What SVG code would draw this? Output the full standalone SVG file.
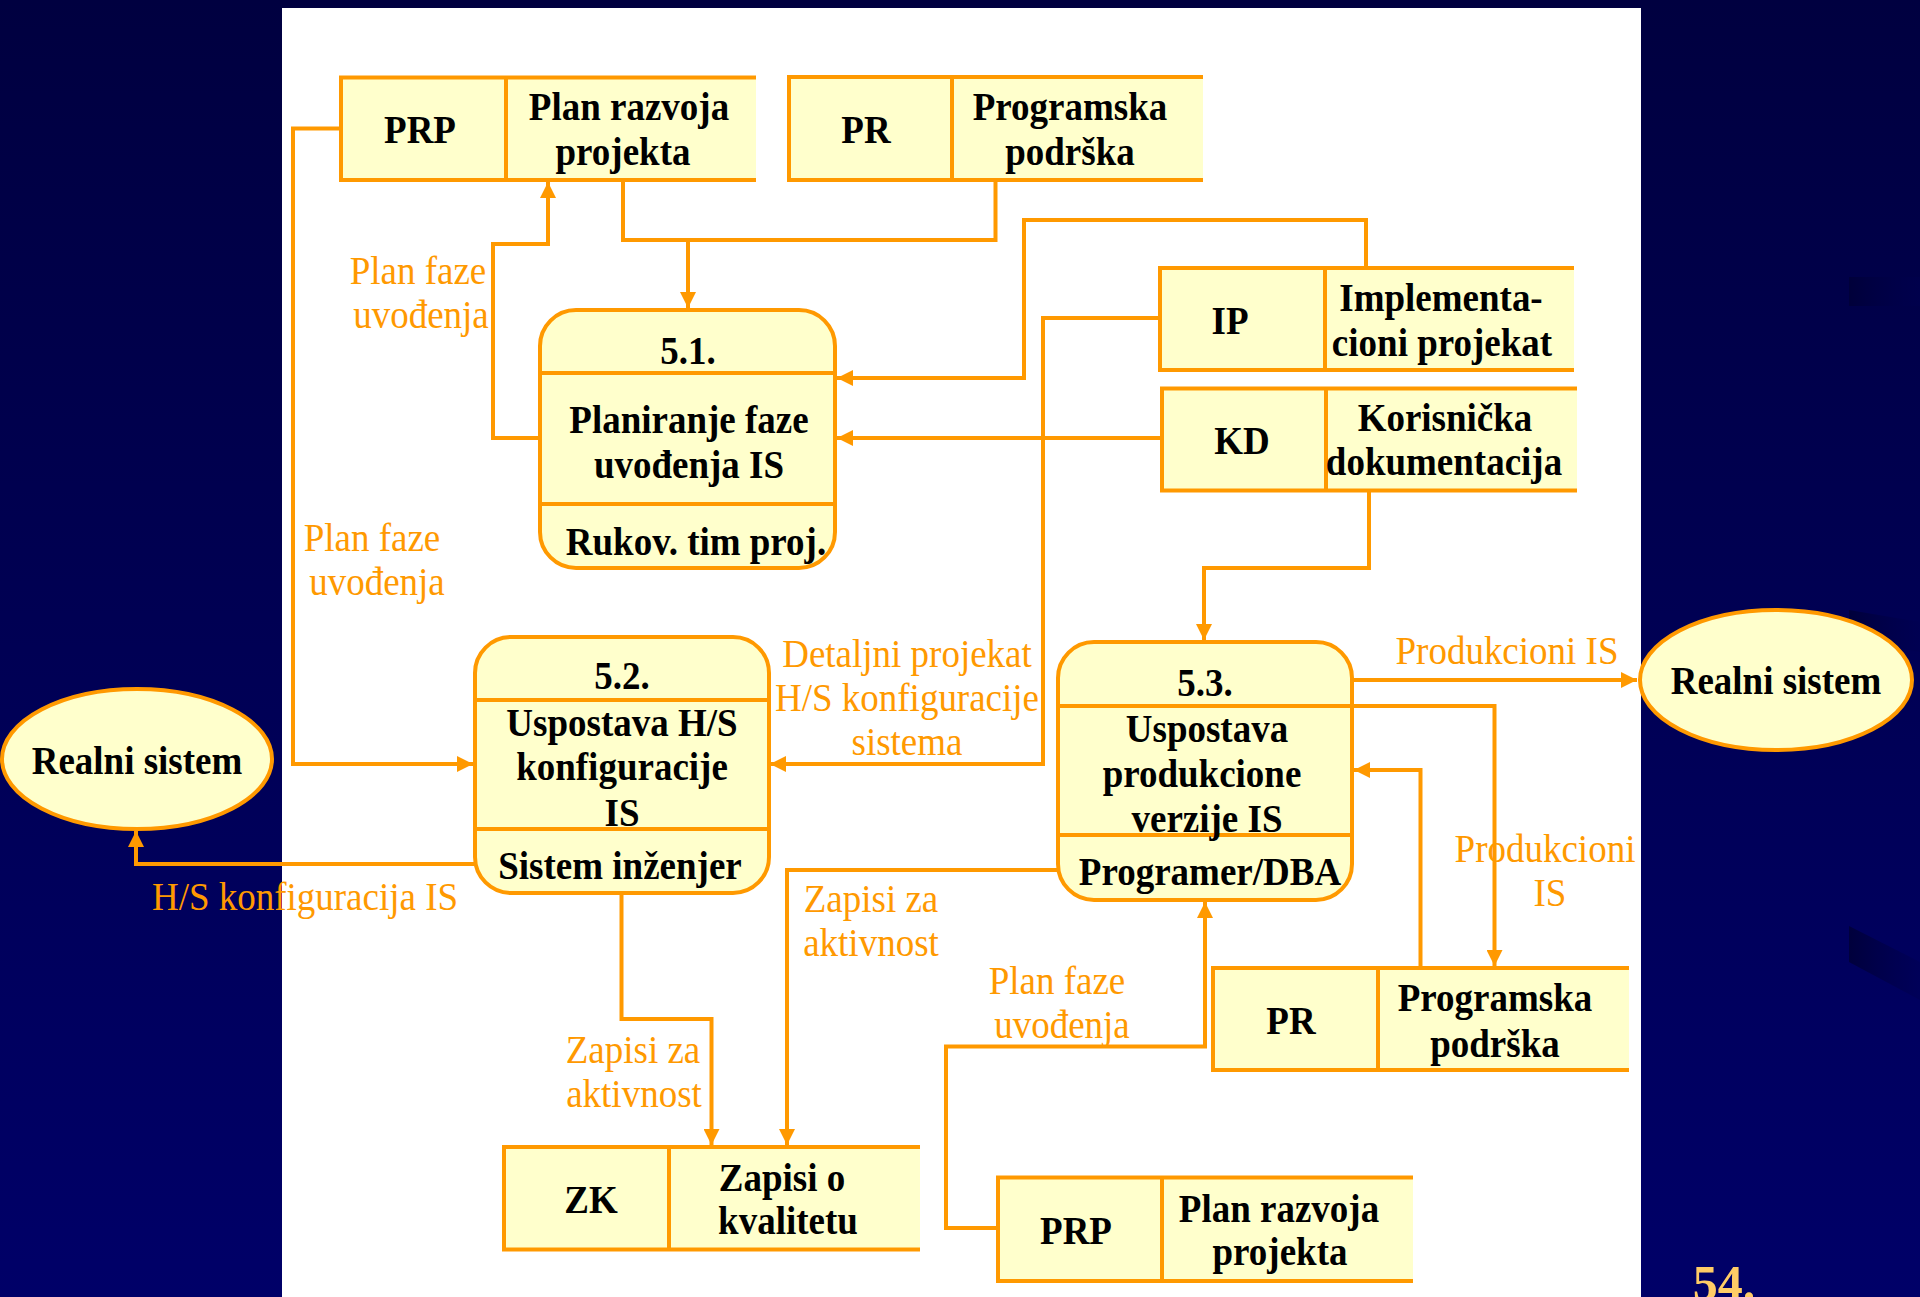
<svg xmlns="http://www.w3.org/2000/svg" width="1920" height="1297" viewBox="0 0 1920 1297">
<defs>
<linearGradient id="bg" x1="0" y1="0" x2="0" y2="1">
<stop offset="0" stop-color="#000040"/>
<stop offset="1" stop-color="#000068"/>
</linearGradient>
<linearGradient id="art" x1="0" y1="0" x2="1" y2="0">
<stop offset="0" stop-color="#000038" stop-opacity="0.9"/>
<stop offset="1" stop-color="#000050" stop-opacity="0.4"/>
</linearGradient>
<marker id="ah" markerUnits="userSpaceOnUse" markerWidth="16" markerHeight="16" refX="16" refY="8" orient="auto">
<path d="M0,0 L16,8 L0,16 z" fill="#FF9900"/>
</marker>
<style>
.sf{fill:#FFFFCC;stroke:none}
.ln{fill:none;stroke:#FF9900;stroke-width:4}
.pr{fill:#FFFFCC;stroke:#FF9900;stroke-width:4}
.cn{fill:none;stroke:#FF9900;stroke-width:4;marker-end:url(#ah)}
.cp{fill:none;stroke:#FF9900;stroke-width:4}
.t{font-family:"Liberation Serif","Times New Roman",serif;font-weight:bold;font-size:37px;fill:#000;text-anchor:middle}
.l{font-family:"Liberation Serif","Times New Roman",serif;font-size:37px;fill:#FF9900;text-anchor:middle}
.t,.l{transform-box:fill-box;transform-origin:50% 50%;transform:translate(0px,1.5px) scale(1,1.08)}
</style>
</defs>
<rect x="0" y="0" width="1920" height="1297" fill="url(#bg)"/>
<rect x="1849" y="277" width="71" height="29" fill="url(#art)"/>
<polygon points="1849,610 1920,622 1920,652 1849,640" fill="url(#art)"/>
<polygon points="1849,926 1920,962 1920,1000 1849,962" fill="url(#art)"/>
<rect x="282" y="8" width="1359" height="1289" fill="#FFFFFF"/>
<text x="1724" y="1300" style="font-family:'Liberation Serif',serif;font-weight:bold;font-size:50px;fill:#FFCC66;text-anchor:middle">54.</text>

<g id="connectors">
<path class="cn" d="M341,128.5 H293 V764 H473"/>
<path class="cn" d="M541,438 H493 V244 H548 V182"/>
<path class="cp" d="M623,180 V240 H995.5 V180"/>
<path class="cn" d="M688,240 V308"/>
<path class="cn" d="M1366,268 V220 H1024 V378 H837"/>
<path class="cn" d="M1162,438 H837"/>
<path class="cn" d="M1160,318 H1043 V764 H770"/>
<path class="cn" d="M1369,490 V568 H1204 V640"/>
<path class="cn" d="M479,864 H136 V831"/>
<path class="cn" d="M621.5,893 V1019 H711.5 V1145"/>
<path class="cn" d="M1058,870 H787 V1145"/>
<path class="cn" d="M998,1228 H946 V1046.5 H1205 V902"/>
<path class="cn" d="M1352,680 H1637"/>
<path class="cn" d="M1352,706 H1494.5 V966"/>
<path class="cn" d="M1420.5,968 V770 H1354"/>
</g>

<g id="labels">
<text class="l" x="418" y="282">Plan faze</text>
<text class="l" x="421" y="326">uvođenja</text>
<text class="l" x="372" y="549">Plan faze</text>
<text class="l" x="377" y="593">uvođenja</text>
<text class="l" x="907" y="665">Detaljni projekat</text>
<text class="l" x="907" y="709">H/S konfiguracije</text>
<text class="l" x="907" y="753">sistema</text>
<text class="l" x="305" y="908">H/S konfiguracija IS</text>
<text class="l" x="633" y="1061">Zapisi za</text>
<text class="l" x="634" y="1105">aktivnost</text>
<text class="l" x="871" y="910">Zapisi za</text>
<text class="l" x="871" y="954">aktivnost</text>
<text class="l" x="1507" y="662">Produkcioni IS</text>
<text class="l" x="1545" y="860">Produkcioni</text>
<text class="l" x="1550" y="904">IS</text>
<text class="l" x="1057" y="992">Plan faze</text>
<text class="l" x="1062" y="1036">uvođenja</text>
</g>

<g id="store-prp-top">
<rect class="sf" x="341" y="77.5" width="415" height="102.5"/>
<path class="ln" d="M756,77.5 H341 V180 H756 M506,77.5 V180"/>
<text class="t" x="420" y="141">PRP</text>
<text class="t" x="629" y="118">Plan razvoja</text>
<text class="t" x="623" y="163">projekta</text>
</g>

<g id="store-pr-top">
<rect class="sf" x="789" y="77" width="414" height="103"/>
<path class="ln" d="M1203,77 H789 V180 H1203 M952,77 V180"/>
<text class="t" x="866" y="141">PR</text>
<text class="t" x="1070" y="118">Programska</text>
<text class="t" x="1070" y="163">podrška</text>
</g>

<g id="store-ip">
<rect class="sf" x="1160" y="268" width="414" height="102"/>
<path class="ln" d="M1574,268 H1160 V370 H1574 M1325,268 V370"/>
<text class="t" x="1230" y="332">IP</text>
<text class="t" x="1441" y="309">Implementa-</text>
<text class="t" x="1442" y="354">cioni projekat</text>
</g>

<g id="store-kd">
<rect class="sf" x="1162" y="388.5" width="415" height="102"/>
<path class="ln" d="M1577,388.5 H1162 V490.5 H1577 M1326,388.5 V490.5"/>
<text class="t" x="1242" y="452">KD</text>
<text class="t" x="1445" y="429">Korisnička</text>
<text class="t" x="1444" y="473">dokumentacija</text>
</g>

<g id="store-zk">
<rect class="sf" x="504" y="1147" width="416" height="102.5"/>
<path class="ln" d="M920,1147 H504 V1249.5 H920 M669,1147 V1249.5"/>
<text class="t" x="591" y="1211">ZK</text>
<text class="t" x="782" y="1189">Zapisi o</text>
<text class="t" x="788" y="1232">kvalitetu</text>
</g>

<g id="store-pr-bottom">
<rect class="sf" x="1213" y="968" width="416" height="102"/>
<path class="ln" d="M1629,968 H1213 V1070 H1629 M1378,968 V1070"/>
<text class="t" x="1291" y="1032">PR</text>
<text class="t" x="1495" y="1009">Programska</text>
<text class="t" x="1495" y="1055">podrška</text>
</g>

<g id="store-prp-bottom">
<rect class="sf" x="998" y="1177.5" width="415" height="103.5"/>
<path class="ln" d="M1413,1177.5 H998 V1281 H1413 M1162,1177.5 V1281"/>
<text class="t" x="1076" y="1242">PRP</text>
<text class="t" x="1279" y="1220">Plan razvoja</text>
<text class="t" x="1280" y="1263">projekta</text>
</g>

<g id="process-5-1">
<rect class="pr" x="540" y="310" width="295" height="258" rx="36" ry="36"/>
<path class="ln" d="M540,373 H835 M540,504 H835"/>
<text class="t" x="688" y="362">5.1.</text>
<text class="t" x="689" y="431">Planiranje faze</text>
<text class="t" x="689" y="476">uvođenja IS</text>
<text class="t" x="696" y="553">Rukov. tim proj.</text>
</g>

<g id="process-5-2">
<rect class="pr" x="475" y="637" width="294" height="256" rx="36" ry="36"/>
<path class="ln" d="M475,700 H769 M475,829 H769"/>
<text class="t" x="622" y="687">5.2.</text>
<text class="t" x="622" y="734">Uspostava H/S</text>
<text class="t" x="622" y="778">konfiguracije</text>
<text class="t" x="622" y="824">IS</text>
<text class="t" x="620" y="877">Sistem inženjer</text>
</g>

<g id="process-5-3">
<rect class="pr" x="1058" y="642" width="294" height="258" rx="36" ry="36"/>
<path class="ln" d="M1058,706 H1352 M1058,835 H1352"/>
<text class="t" x="1205" y="694">5.3.</text>
<text class="t" x="1207" y="740">Uspostava</text>
<text class="t" x="1202" y="785">produkcione</text>
<text class="t" x="1207" y="830">verzije IS</text>
<text class="t" x="1210" y="883">Programer/DBA</text>
</g>

<g id="ext-realni-left">
<ellipse class="pr" cx="137" cy="759" rx="135" ry="70"/>
<text class="t" x="137" y="772">Realni sistem</text>
</g>

<g id="ext-realni-right">
<ellipse class="pr" cx="1776" cy="680" rx="136" ry="70"/>
<text class="t" x="1776" y="692">Realni sistem</text>
</g>
</svg>
